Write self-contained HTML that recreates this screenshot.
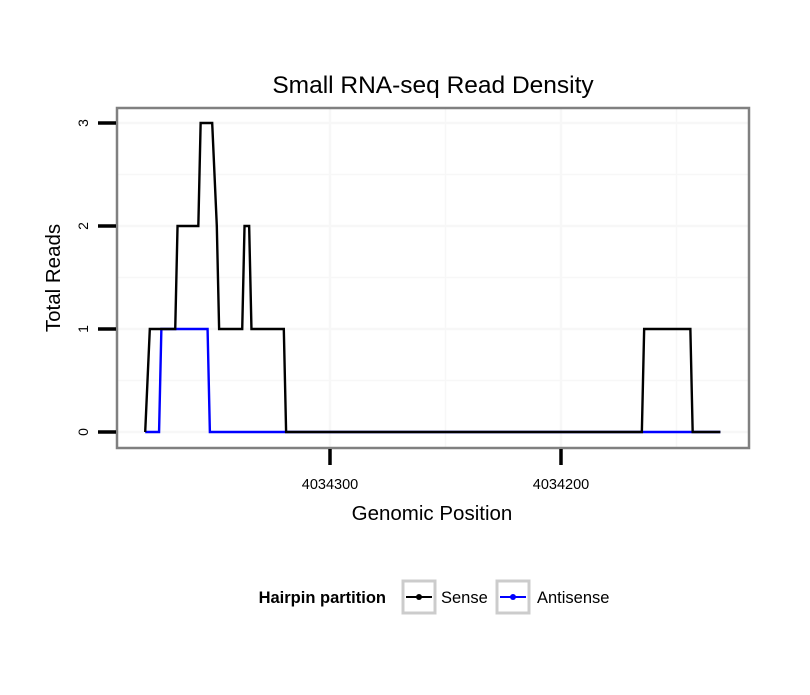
<!DOCTYPE html>
<html><head><meta charset="utf-8"><style>
body{margin:0;background:#fff;}
text{font-family:"Liberation Sans",sans-serif;}
</style></head><body>
<svg id="chart" width="810" height="690" xmlns="http://www.w3.org/2000/svg">
<rect width="810" height="690" fill="#fff"/>
<text x="433" y="93" font-size="24.5" text-anchor="middle">Small RNA-seq Read Density</text>
<g id="grid"></g>
<g id="series"></g>
<rect x="117" y="108" width="632" height="340" fill="none" stroke="#808080" stroke-width="2.5"/>
<g id="axes"></g>
<text x="432" y="520" font-size="20.5" text-anchor="middle">Genomic Position</text>
<text transform="translate(60,278) rotate(-90)" font-size="20.5" text-anchor="middle">Total Reads</text>
<g>
<text x="386" y="603" font-size="16.5" font-weight="bold" text-anchor="end">Hairpin partition</text>
<g>
<rect x="403" y="581" width="32" height="32" fill="#fff" stroke="#ccc" stroke-width="3"/>
<line x1="406" y1="597" x2="432" y2="597" stroke="#000" stroke-width="2"/>
<circle cx="419" cy="597" r="3" fill="#000"/>
<text x="441" y="603" font-size="16.5">Sense</text></g>
<g>
<rect x="497" y="581" width="32" height="32" fill="#fff" stroke="#ccc" stroke-width="3"/>
<line x1="500" y1="597" x2="526" y2="597" stroke="#00f" stroke-width="2"/>
<circle cx="513" cy="597" r="3" fill="#00f"/>
<text x="537" y="603" font-size="16.5">Antisense</text></g>
</g>
</svg>
<script>
const sensePos=[4034380,4034378,4034367,4034366,4034357,4034356,4034351,4034349,4034348,4034338,4034337,4034335,4034334,4034320,4034319,4034165,4034164,4034144,4034143,4034131];
const senseVal=[0,1,1,2,2,3,3,2,1,1,2,2,1,1,0,0,1,1,0,0];
const antiPos=[4034380,4034374,4034373,4034353,4034352,4034131];
const antiVal=[0,0,1,1,0,0];
const xTicks=[4034300,4034200];
const xTickLabels=["4034300","4034200"];
const yTicks=[0,1,2,3];
const xMinor=[4034250,4034150];
const yMinor=[0.5,1.5,2.5];
const NS="http://www.w3.org/2000/svg";
function sx(p){return 330+(4034300-p)*2.31;}
function sy(v){return 432-v*103;}
function mk(tag,attrs,parent){const e=document.createElementNS(NS,tag);for(const k in attrs)e.setAttribute(k,attrs[k]);parent.appendChild(e);return e;}
const grid=document.getElementById('grid'),axes=document.getElementById('axes'),series=document.getElementById('series');
xTicks.concat(xMinor).forEach(p=>{const l=mk('line',{x1:sx(p),x2:sx(p),y1:108,y2:448,stroke:'#f7f7f7','stroke-width':xTicks.includes(p)?2.5:1.5},grid);

});
yTicks.concat(yMinor).forEach(v=>{const l=mk('line',{x1:117,x2:749,y1:sy(v),y2:sy(v),stroke:'#f7f7f7','stroke-width':yTicks.includes(v)?2.5:1.5},grid);

});
xTicks.forEach((p,i)=>{const l=mk('line',{x1:sx(p),x2:sx(p),y1:449,y2:465,stroke:'#000','stroke-width':3.5},axes);


const t=mk('text',{x:sx(p),y:489,'font-size':14.5,'text-anchor':'middle'},axes);t.textContent=xTickLabels[i];

});
yTicks.forEach(v=>{const l=mk('line',{x1:98,x2:116,y1:sy(v),y2:sy(v),stroke:'#000','stroke-width':3.5},axes);


const t=mk('text',{transform:`translate(88,${sy(v)}) rotate(-90)`,'font-size':14,'text-anchor':'middle'},axes);t.textContent=v;

});
function line(pos,val,color,name){const d=pos.map((p,i)=>(i?'L':'M')+sx(p)+','+sy(val[i])).join('');
const e=mk('path',{d:d,fill:'none',stroke:color,'stroke-width':2.4},series);

}
line(antiPos,antiVal,'#00f','antisense-line');
line(sensePos,senseVal,'#000','sense-line');
</script>
</body></html>
